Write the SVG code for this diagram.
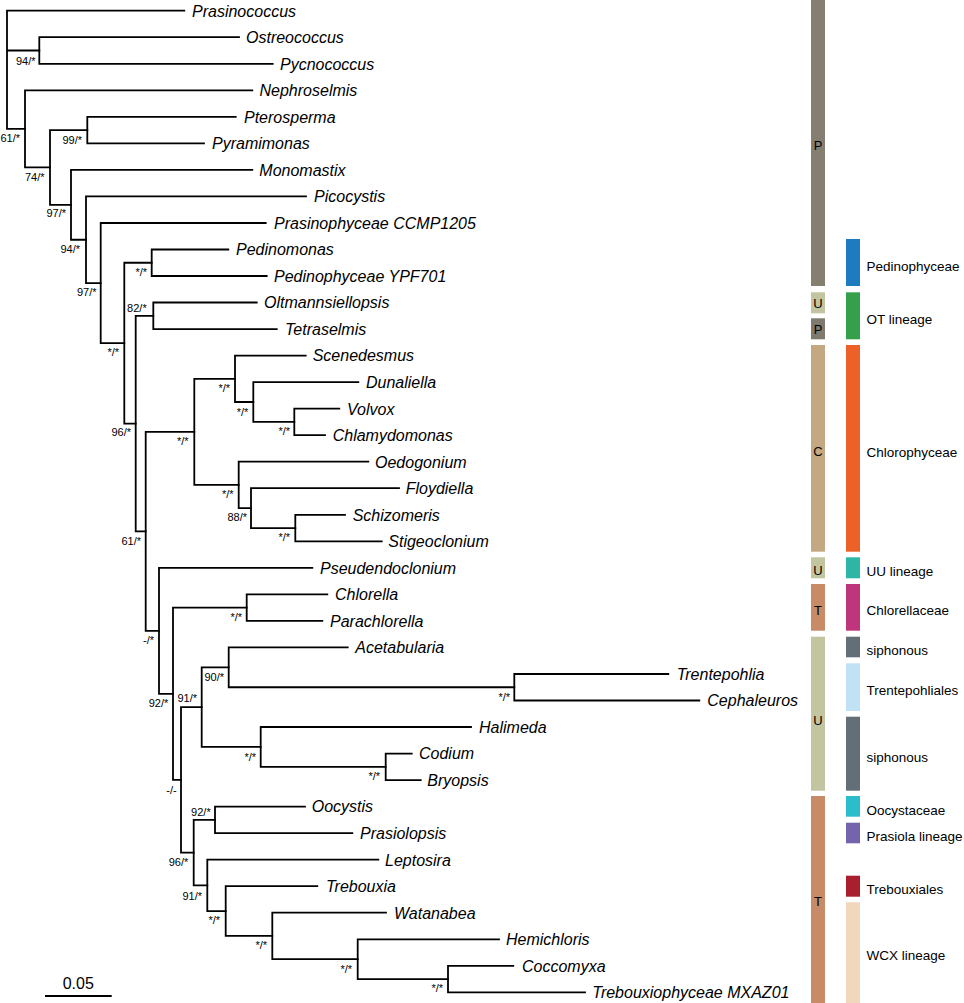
<svg xmlns="http://www.w3.org/2000/svg" width="964" height="1003" viewBox="0 0 964 1003">
<style>
.br{fill:none;stroke:#000;stroke-width:1.8;stroke-linecap:square}
.tx{font-family:"Liberation Sans",Arial,sans-serif;font-size:16px;font-style:italic;fill:#000}
.sp{font-family:"Liberation Sans",Arial,sans-serif;font-size:11px;fill:#000;text-anchor:end}
.bl{font-family:"Liberation Sans",Arial,sans-serif;font-size:13px;fill:#000;text-anchor:middle}
.gl{font-family:"Liberation Sans",Arial,sans-serif;font-size:13.5px;fill:#000}
</style>
<rect width="964" height="1003" fill="#fff"/>
<g id="connectors" class="br">
<path d="M7,10.7 V128.9 M7,10.7 H184.3 M7,50.5 H39.3 M7,128.9 H25"/>
<path d="M39.3,37.2 V63.8 M39.3,37.2 H239 M39.3,63.8 H272.7"/>
<path d="M25,90.3 V167.45 M25,90.3 H252.3 M25,167.45 H50"/>
<path d="M50,130.1 V204.8 M50,130.1 H87.3 M50,204.8 H71"/>
<path d="M87.3,116.8 V143.4 M87.3,116.8 H235.7 M87.3,143.4 H204"/>
<path d="M71,169.9 V239.75 M71,169.9 H252.3 M71,239.75 H86"/>
<path d="M86,196.4 V283.1 M86,196.4 H306 M86,283.1 H100.7"/>
<path d="M100.7,223 V343.2 M100.7,223 H265.7 M100.7,343.2 H124.3"/>
<path d="M124.3,262.75 V423.6 M124.3,262.75 H151.7 M124.3,423.6 H135.7"/>
<path d="M151.7,249.5 V276 M151.7,249.5 H228.3 M151.7,276 H266.7"/>
<path d="M135.7,315.8 V531.35 M135.7,315.8 H153.3 M135.7,531.35 H145.7"/>
<path d="M153.3,302.5 V329.1 M153.3,302.5 H256.7 M153.3,329.1 H276.7"/>
<path d="M145.7,431.9 V630.8 M145.7,431.9 H194.3 M145.7,630.8 H159"/>
<path d="M194.3,378.8 V484.9 M194.3,378.8 H235 M194.3,484.9 H238.7"/>
<path d="M235,355.6 V402 M235,355.6 H305.7 M235,402 H253.3"/>
<path d="M253.3,382.1 V421.95 M253.3,382.1 H358.3 M253.3,421.95 H294.3"/>
<path d="M294.3,408.7 V435.2 M294.3,408.7 H339.3 M294.3,435.2 H325"/>
<path d="M238.7,461.7 V508.1 M238.7,461.7 H368.3 M238.7,508.1 H251"/>
<path d="M251,488.2 V528.05 M251,488.2 H399 M251,528.05 H295.3"/>
<path d="M295.3,514.8 V541.3 M295.3,514.8 H345 M295.3,541.3 H381.7"/>
<path d="M159,567.8 V693.8 M159,567.8 H312.3 M159,693.8 H173"/>
<path d="M173,607.65 V779.9 M173,607.65 H246.7 M173,779.9 H181"/>
<path d="M246.7,594.4 V620.9 M246.7,594.4 H327.3 M246.7,620.9 H322.3"/>
<path d="M181,707.1 V852.6 M181,707.1 H201.7 M181,852.6 H193.7"/>
<path d="M201.7,667.3 V746.9 M201.7,667.3 H228.7 M201.7,746.9 H260.7"/>
<path d="M228.7,647.4 V687.25 M228.7,647.4 H347.7 M228.7,687.25 H514.3"/>
<path d="M514.3,674 V700.5 M514.3,674 H668.3 M514.3,700.5 H699.3"/>
<path d="M260.7,727 V766.85 M260.7,727 H471 M260.7,766.85 H385.7"/>
<path d="M385.7,753.6 V780.1 M385.7,753.6 H411.7 M385.7,780.1 H420.7"/>
<path d="M193.7,819.85 V885.4 M193.7,819.85 H215 M193.7,885.4 H207.3"/>
<path d="M215,806.6 V833.1 M215,806.6 H305 M215,833.1 H352.3"/>
<path d="M207.3,859.7 V911.1 M207.3,859.7 H378.3 M207.3,911.1 H225.7"/>
<path d="M225.7,886.2 V935.9 M225.7,886.2 H317.3 M225.7,935.9 H272.3"/>
<path d="M272.3,912.7 V959.2 M272.3,912.7 H386 M272.3,959.2 H357.7"/>
<path d="M357.7,939.3 V979.05 M357.7,939.3 H499 M357.7,979.05 H448"/>
<path d="M448,965.8 V992.3 M448,965.8 H513.3 M448,992.3 H585"/>
</g>
<g id="taxa" class="tx">
<text id="t0" x="192" y="16.5">Prasinococcus</text>
<text id="t1" x="246" y="43">Ostreococcus</text>
<text id="t2" x="280" y="69.6">Pycnococcus</text>
<text id="t3" x="259.5" y="96.1">Nephroselmis</text>
<text id="t4" x="244" y="122.6">Pterosperma</text>
<text id="t5" x="212" y="149.2">Pyramimonas</text>
<text id="t6" x="259.3" y="175.7">Monomastix</text>
<text id="t7" x="314" y="202.2">Picocystis</text>
<text id="t8" x="274" y="228.8">Prasinophyceae CCMP1205</text>
<text id="t9" x="236" y="255.3">Pedinomonas</text>
<text id="t10" x="274" y="281.8">Pedinophyceae YPF701</text>
<text id="t11" x="264" y="308.3">Oltmannsiellopsis</text>
<text id="t12" x="285" y="334.9">Tetraselmis</text>
<text id="t13" x="312.7" y="361.4">Scenedesmus</text>
<text id="t14" x="366" y="387.9">Dunaliella</text>
<text id="t15" x="347" y="414.5">Volvox</text>
<text id="t16" x="332.7" y="441">Chlamydomonas</text>
<text id="t17" x="375" y="467.5">Oedogonium</text>
<text id="t18" x="405.7" y="494">Floydiella</text>
<text id="t19" x="352.7" y="520.6">Schizomeris</text>
<text id="t20" x="388.3" y="547.1">Stigeoclonium</text>
<text id="t21" x="320" y="573.6">Pseudendoclonium</text>
<text id="t22" x="335" y="600.2">Chlorella</text>
<text id="t23" x="330" y="626.7">Parachlorella</text>
<text id="t24" x="355.3" y="653.2">Acetabularia</text>
<text id="t25" x="676.7" y="679.8">Trentepohlia</text>
<text id="t26" x="707.3" y="706.3">Cephaleuros</text>
<text id="t27" x="479" y="732.8">Halimeda</text>
<text id="t28" x="419" y="759.4">Codium</text>
<text id="t29" x="427.3" y="785.9">Bryopsis</text>
<text id="t30" x="311.7" y="812.4">Oocystis</text>
<text id="t31" x="360" y="838.9">Prasiolopsis</text>
<text id="t32" x="385" y="865.5">Leptosira</text>
<text id="t33" x="326" y="892">Trebouxia</text>
<text id="t34" x="394" y="918.5">Watanabea</text>
<text id="t35" x="506" y="945.1">Hemichloris</text>
<text id="t36" x="522" y="971.6">Coccomyxa</text>
<text id="t37" x="592.3" y="998.1">Trebouxiophyceae MXAZ01</text>
</g>
<g id="support" class="sp">
<text x="35.5" y="64.8">94/*</text>
<text x="0.5" y="141.5" text-anchor="start">61/*</text>
<text x="44.5" y="180.7">74/*</text>
<text x="82" y="144">99/*</text>
<text x="66" y="217.3">97/*</text>
<text x="80" y="253">94/*</text>
<text x="96.5" y="296">97/*</text>
<text x="119" y="356">*/*</text>
<text x="147" y="276">*/*</text>
<text x="131" y="436">96/*</text>
<text x="146.7" y="311.7">82/*</text>
<text x="141" y="545">61/*</text>
<text x="188.5" y="444.7">*/*</text>
<text x="230" y="392">*/*</text>
<text x="248.3" y="415.7">*/*</text>
<text x="290" y="435">*/*</text>
<text x="233.5" y="498">*/*</text>
<text x="247" y="520.7">88/*</text>
<text x="290" y="541">*/*</text>
<text x="154" y="644">-/*</text>
<text x="168.3" y="707.3">92/*</text>
<text x="242" y="620.7">*/*</text>
<text x="176.7" y="794">-/-</text>
<text x="197" y="702.3">91/*</text>
<text x="224" y="680.7">90/*</text>
<text x="510" y="701.3">*/*</text>
<text x="256" y="760.7">*/*</text>
<text x="380" y="780">*/*</text>
<text x="188.3" y="866.3">96/*</text>
<text x="210.7" y="815.7">92/*</text>
<text x="202" y="899.7">91/*</text>
<text x="220" y="924">*/*</text>
<text x="267" y="949">*/*</text>
<text x="352" y="973">*/*</text>
<text x="443" y="992.3">*/*</text>
</g>
<g id="scale">
<path d="M45,996 H111.7" stroke="#000" stroke-width="1.8"/>
<text x="78.3" y="989" font-family="Liberation Sans, Arial, sans-serif" font-size="16" text-anchor="middle">0.05</text>
</g>
<g id="classes">
<rect x="811" y="0" width="14" height="286" fill="#857f72"/>
<text class="bl" x="818" y="150.3">P</text>
<rect x="811" y="292.3" width="14" height="21" fill="#c3c4a0"/>
<text class="bl" x="818" y="307.6">U</text>
<rect x="811" y="318.3" width="14" height="21" fill="#7f7a6f"/>
<text class="bl" x="818" y="334.3">P</text>
<rect x="811" y="345" width="14" height="206.7" fill="#c3a882"/>
<text class="bl" x="818" y="456.3">C</text>
<rect x="811" y="557.3" width="14" height="21" fill="#c3c4a0"/>
<text class="bl" x="818" y="575.3">U</text>
<rect x="811" y="584" width="14" height="46.7" fill="#c78b67"/>
<text class="bl" x="818" y="614.6">T</text>
<rect x="811" y="636.7" width="14" height="154" fill="#c3c4a0"/>
<text class="bl" x="818" y="724.6">U</text>
<rect x="811" y="796" width="14" height="207" fill="#c78b67"/>
<text class="bl" x="818" y="906.3">T</text>
</g>
<g id="lineages" class="gl">
<rect x="846" y="239" width="14" height="47" fill="#1e7bc0"/>
<text x="866.5" y="270.5">Pedinophyceae</text>
<rect x="846" y="292.3" width="14" height="47" fill="#35a04b"/>
<text x="866.5" y="323.8">OT lineage</text>
<rect x="846" y="345" width="14" height="206.7" fill="#ec6128"/>
<text x="866.5" y="456.5">Chlorophyceae</text>
<rect x="846" y="557.3" width="14" height="21" fill="#2db6a4"/>
<text x="866.5" y="575.5">UU lineage</text>
<rect x="846" y="584" width="14" height="46.7" fill="#bf357c"/>
<text x="866.5" y="614.8">Chlorellaceae</text>
<rect x="846" y="636.7" width="14" height="20.6" fill="#636e79"/>
<text x="866.5" y="654.8">siphonous</text>
<rect x="846" y="663.3" width="14" height="47.7" fill="#bfe3f4"/>
<text x="866.5" y="694.8">Trentepohliales</text>
<rect x="846" y="716.7" width="14" height="74" fill="#636e79"/>
<text x="866.5" y="761.5">siphonous</text>
<rect x="846" y="796" width="14" height="20.7" fill="#2bbdcc"/>
<text x="866.5" y="814.8">Oocystaceae</text>
<rect x="846" y="822.7" width="14" height="20.6" fill="#7464ab"/>
<text x="866.5" y="840.8">Prasiola lineage</text>
<rect x="846" y="875.7" width="14" height="21" fill="#aa1f2e"/>
<text x="866.5" y="893.8">Trebouxiales</text>
<rect x="846" y="902.3" width="14" height="100.7" fill="#f1d7bb"/>
<text x="866.5" y="959.8">WCX lineage</text>
</g>
</svg>
